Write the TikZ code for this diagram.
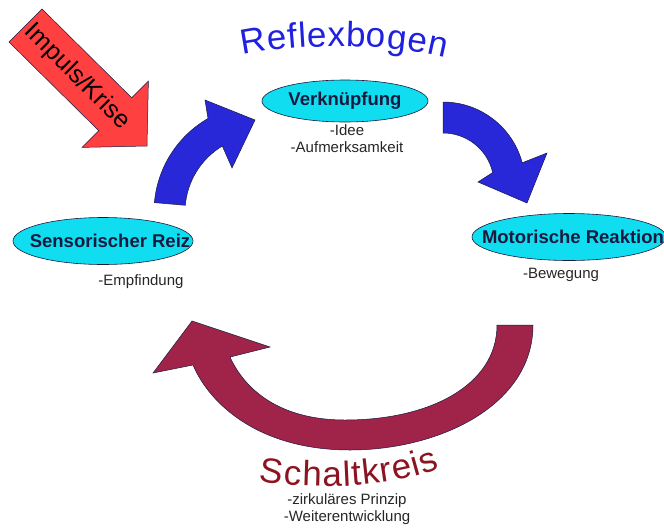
\documentclass[tikz,border=0pt]{standalone}
\usepackage{fontspec}
\setmainfont{Liberation Sans}
\usetikzlibrary{shapes.geometric, decorations.text}
\definecolor{impuls}{HTML}{FF4040}
\definecolor{bogen}{HTML}{2828D8}
\definecolor{kreis}{HTML}{A0234A}
\definecolor{knoten}{HTML}{10DDF0}
\definecolor{titel}{HTML}{2020E0}
\definecolor{schalt}{HTML}{8C1420}
\definecolor{rand}{HTML}{1A1A40}

\begin{document}
\begin{tikzpicture}[x=1pt, y=-1pt,
    bubble/.style={ellipse, draw=rand, fill=knoten, line width=0.6pt, inner sep=0pt},
    bubbletext/.style={font=\fontsize{18.5}{20}\selectfont\bfseries, text=rand, inner sep=0pt},
    note/.style={font=\fontsize{15}{17}\selectfont, align=center, text=black!85},
    block/.style={draw=rand, line width=0.5pt, line join=miter}]
  \useasboundingbox (0,0) rectangle (664,531);

  % Titel oben
  \path[decorate, decoration={text along path, text color=titel, text align={fit to path},
      text={|\fontsize{35}{35}\selectfont|Reflexbogen}}]
    (243,55) .. controls (300,43) and (386,43) .. (445,58);

  % Impuls-Pfeil
  \filldraw[block, fill=impuls] (9,42) -- (42,9) -- (131.7,97.7) -- (148.4,81)
    -- (147,146) -- (82,147.4) -- (98.7,130.7) -- cycle;
  \node[rotate=-45, font=\fontsize{25}{25}\selectfont] (impuls) at (77,77) {Impuls/Krise};

  % blaue Bogenpfeile
  \begin{scope}[shift={(262,212)}]
    \filldraw[block, fill=bogen] (185:108) arc[start angle=185, end angle=240, radius=108]
      -- (-57,-112) -- (-7,-92) -- (-30,-44)
      -- (239:77) arc[start angle=239, end angle=185, radius=77] -- cycle;
  \end{scope}
  \begin{scope}[shift={(443,184)}]
    \filldraw[block, fill=bogen] (270:82) arc[start angle=270, end angle=345, radius=82]
      -- (104,-31) -- (84,19) -- (35,-2)
      -- (347:51) arc[start angle=347, end angle=270, radius=51] -- cycle;
  \end{scope}

  % Schaltkreis-Pfeil
  \filldraw[block, fill=kreis] (497,325) .. controls (497,385) and (430,420) .. (345,420)
    .. controls (280,420) and (245,390) .. (230,357) -- (270,347) -- (192,321)
    -- (153,373) -- (193,365) .. controls (210,405) and (260,450) .. (350,450)
    .. controls (440,450) and (533,405) .. (533,325) -- cycle;

  % Stationen
  \node[bubble, minimum width=166pt, minimum height=42pt,
    label={[bubbletext]center:Verknüpfung}] (verk) at (345,101) {};
  \node[bubble, minimum width=180pt, minimum height=47pt,
    label={[bubbletext, xshift=7pt]center:Sensorischer Reiz}] (reiz) at (103,241) {};
  \node[bubble, minimum width=194pt, minimum height=47pt,
    label={[bubbletext, xshift=4pt]center:Motorische Reaktion}] (motor) at (569,237) {};

  \node[note] (verkinfo) at (347,139) {-Idee\\-Aufmerksamkeit};
  \node[note] (reizinfo) at (141,282) {-Empfindung};
  \node[note] (motorinfo) at (561,275) {-Bewegung};

  % Titel unten
  \path[decorate, decoration={text along path, text color=schalt, text align={fit to path},
      text={|\fontsize{35}{35}\selectfont|Schaltkreis}}]
    (259,481) .. controls (310,490) and (390,489) .. (440,468);
  \node[note] (kreisinfo) at (347,509) {-zirkuläres Prinzip\\-Weiterentwicklung};
\end{tikzpicture}
\end{document}
